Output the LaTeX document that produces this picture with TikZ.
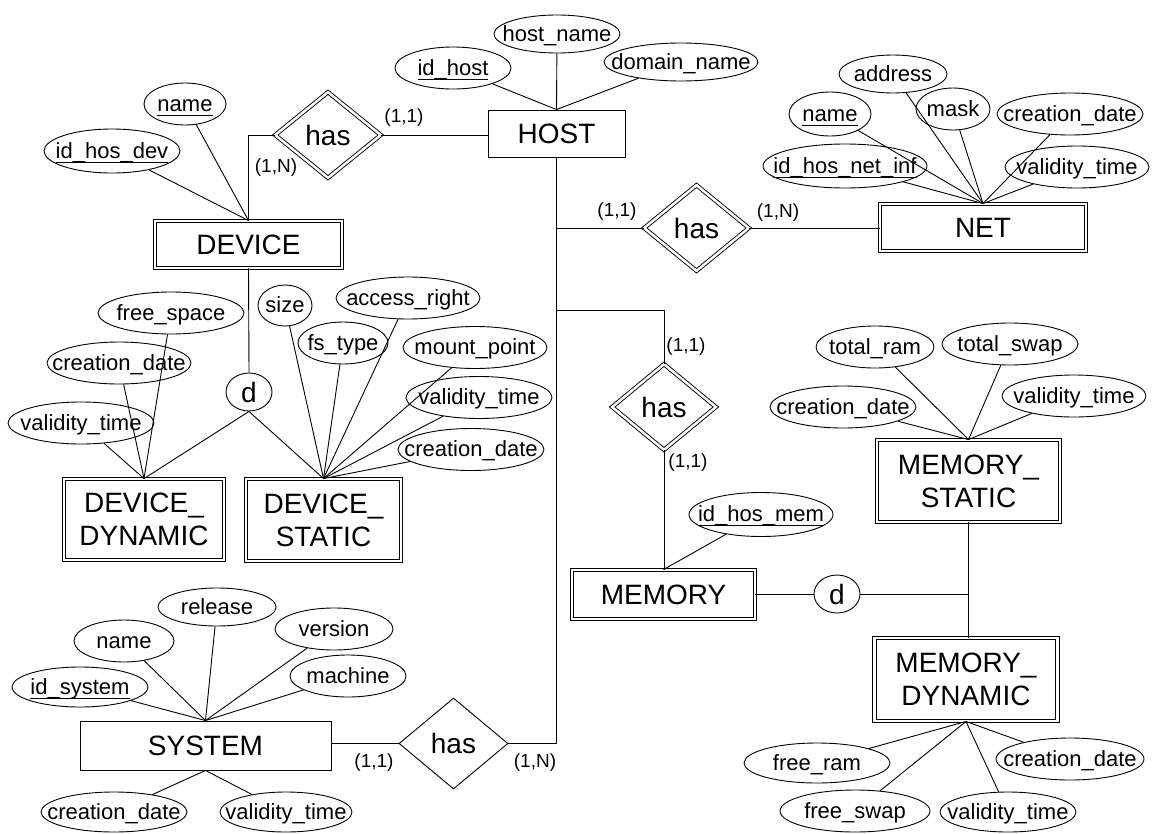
\documentclass[tikz,border=0pt]{standalone}
\usepackage{fontspec}
\setmainfont{Liberation Sans}
\usetikzlibrary{shapes.geometric}
\newcommand\zw[1]{\makebox[0pt]{#1}}
\newcommand\ul[1]{\setbox0\hbox{#1}\rlap{\rule[-4.6pt]{\wd0}{1.1pt}}\box0}
\begin{document}
\begin{tikzpicture}[x=1pt,y=-1pt, line width=0.9pt,
 attr/.style 2 args={draw, ellipse, inner sep=0pt, minimum width=#1, minimum height=#2, font=\fontsize{22}{26}\selectfont, text height=18pt, text depth=4pt},
 ent/.style 2 args={draw, rectangle, inner sep=0pt, minimum width=#1, minimum height=#2, font=\fontsize{28}{33}\selectfont, align=center},
 weak/.style 2 args={ent={#1}{#2}, double, double distance=2.5pt},
 rel/.style 2 args={draw, diamond, inner sep=0pt, minimum width=#1, minimum height=#2, font=\fontsize{28}{33}\selectfont},
 wrel/.style 2 args={rel={#1}{#2}, double, double distance=2.5pt},
 disj/.style={draw, ellipse, inner sep=0pt, minimum width=46, minimum height=38, font=\fontsize{28}{33}\selectfont},
 card/.style={font=\fontsize{19}{22}\selectfont, inner sep=0pt},
]
\fill[white] (0,0) rectangle (1157,833);
\useasboundingbox (0,0) rectangle (1157,833);

% entities
\node[ent={137}{47}] (host) at (556.5,133.5) {HOST};
\node[weak={187}{47}] (device) at (248.5,244.5) {DEVICE};
\node[weak={206}{47}] (net) at (983,227.5) {NET};
\node[weak={160}{81}] (ddyn) at (144,519.5) {DEVICE\_\\DYNAMIC};
\node[weak={155}{82}] (dsta) at (323.5,520) {DEVICE\_\\STATIC};
\node[weak={183}{49}] (mem) at (663.5,594.5) {MEMORY};
\node[weak={183}{82}] (mst) at (968.5,481) {MEMORY\_\\STATIC};
\node[weak={183}{83}] (mdyn) at (966,679.5) {MEMORY\_\\DYNAMIC};
\node[ent={251}{49}] (sys) at (205.5,745.5) {SYSTEM};

% relationships
\node[wrel={106}{86}] (has1) at (328,135) {has};
\node[wrel={105}{86}] (has2) at (696.5,228) {has};
\node[wrel={104}{86}] (has3) at (664,407) {has};
\node[rel={109}{91}] (has4) at (453.5,743.5) {has};

% disjoint specialisations
\node[disj] (dd) at (249,392) {d};
\node[disj] (dm) at (837,594) {d};

% cardinalities
\node[card] (c1) at (404,118) {(1,1)};
\node[card] (c2) at (276,168) {(1,N)};
\node[card] (c3) at (617,212) {(1,1)};
\node[card] (c4) at (778,213) {(1,N)};
\node[card] (c5) at (686,347) {(1,1)};
\node[card] (c6) at (688,463) {(1,1)};
\node[card] (c7) at (374,763) {(1,1)};
\node[card] (c8) at (535,763) {(1,N)};

% HOST attributes
\node[attr={116}{42}] (hid) at (453,68) {\zw{\ul{id\_host}}};
\node[attr={126}{38}] (hname) at (557,34) {\zw{host\_name}};
\node[attr={154}{38}] (hdom) at (681,62) {\zw{domain\_name}};
% DEVICE attributes
\node[attr={82}{42}] (dname) at (185,104) {\zw{\ul{name}}};
\node[attr={136}{44}] (dhid) at (112,151) {\zw{\ul{id\_hos\_dev}}};
% NET attributes
\node[attr={108}{38}] (naddr) at (893,74) {\zw{address}};
\node[attr={82}{44}] (nname) at (830,114) {\zw{\ul{name}}};
\node[attr={74}{42}] (nmask) at (953,109) {\zw{mask}};
\node[attr={146}{42}] (ncd) at (1070,114) {\zw{creation\_date}};
\node[attr={164}{44}] (nid) at (845,166) {\zw{\ul{id\_hos\_net\_inf}}};
\node[attr={144}{42}] (nvt) at (1077,167) {\zw{validity\_time}};
% DEVICE_DYNAMIC attributes
\node[attr={146}{42}] (yfs) at (171,313) {\zw{free\_space}};
\node[attr={144}{42}] (ycd) at (119,363) {\zw{creation\_date}};
\node[attr={146}{42}] (yvt) at (81,423) {\zw{validity\_time}};
% DEVICE_STATIC attributes
\node[attr={54}{41}] (ssz) at (285,305.5) {\zw{size}};
\node[attr={90}{42}] (sfs) at (343,343) {\zw{fs\_type}};
\node[attr={144}{42}] (sar) at (408,298) {\zw{access\_right}};
\node[attr={144}{42}] (smp) at (475,347.5) {\zw{mount\_point}};
\node[attr={146}{42}] (svt) at (479,397.5) {\zw{validity\_time}};
\node[attr={146}{42}] (scd) at (471,449.5) {\zw{creation\_date}};
% MEMORY attribute
\node[attr={144}{44}] (mid) at (761,514.5) {\zw{\ul{id\_hos\_mem}}};
% MEMORY_STATIC attributes
\node[attr={118}{42}] (tram) at (875,347) {\zw{total\_ram}};
\node[attr={136}{42}] (tswp) at (1010,344) {\zw{total\_swap}};
\node[attr={146}{42}] (tcd) at (843,407) {\zw{creation\_date}};
\node[attr={144}{42}] (tvt) at (1074,396) {\zw{validity\_time}};
% MEMORY_DYNAMIC attributes
\node[attr={146}{40}] (fram) at (817,763) {\zw{free\_ram}};
\node[attr={150}{42}] (fswp) at (855,811) {\zw{free\_swap}};
\node[attr={136}{40}] (fvt) at (1008,812) {\zw{validity\_time}};
\node[attr={148}{42}] (fcd) at (1070,759) {\zw{creation\_date}};
% SYSTEM attributes
\node[attr={118}{38}] (srel) at (217,607) {\zw{release}};
\node[attr={100}{42}] (snm) at (124,641) {\zw{name}};
\node[attr={118}{42}] (sver) at (334,629) {\zw{version}};
\node[attr={116}{42}] (smac) at (348,676) {\zw{machine}};
\node[attr={136}{40}] (sid) at (80,687) {\zw{\ul{id\_system}}};
\node[attr={146}{40}] (scd2) at (114,812) {\zw{creation\_date}};
\node[attr={132}{40}] (svt2) at (286,812) {\zw{validity\_time}};

\coordinate (hj) at (556.5,310);

% relationship connectors
\draw (has1.east) -- (has1.east -| host.west);
\draw (has1.west) -| (device.north);
\draw (host.south) |- (has4.east);
\draw (has2.west) -- (has2.west -| host.south);
\draw (has2.east) -- (has2.east -| net.west);
\draw (has3.north) |- (hj);
\draw (has3.south) -- (has3.south |- mem.north);
\draw (has4.west) -- (has4.west -| sys.east);
% specialisations
\draw (device.south) -- (dd.north);
\draw (dd.south) -- (ddyn.north);
\draw (dd.south) -- (dsta.north);
\draw (dm.west) -- (dm.west -| mem.east);
\draw (dm.east) -- (dm.east -| mst.south);
\draw (mst.south) -- (mst.south |- mdyn.north);

% attribute connectors
\foreach \a in {hid,hname,hdom} \draw (\a) -- (host.north);
\foreach \a in {dname,dhid} \draw (\a) -- (device.north);
\foreach \a in {naddr,nname,nmask,ncd,nid,nvt} \draw (\a) -- (net.north);
\foreach \a in {yfs,ycd,yvt} \draw (\a) -- (ddyn.north);
\foreach \a in {ssz,sfs,sar,smp,svt,scd} \draw (\a) -- (dsta.north);
\draw (mid) -- (mem.north);
\foreach \a in {tram,tswp,tcd,tvt} \draw (\a) -- (mst.north);
\foreach \a in {fram,fswp,fvt,fcd} \draw (\a) -- (mdyn.south);
\foreach \a in {srel,snm,sver,smac,sid} \draw (\a) -- (sys.north);
\foreach \a in {scd2,svt2} \draw (\a) -- (sys.south);
\end{tikzpicture}
\end{document}
